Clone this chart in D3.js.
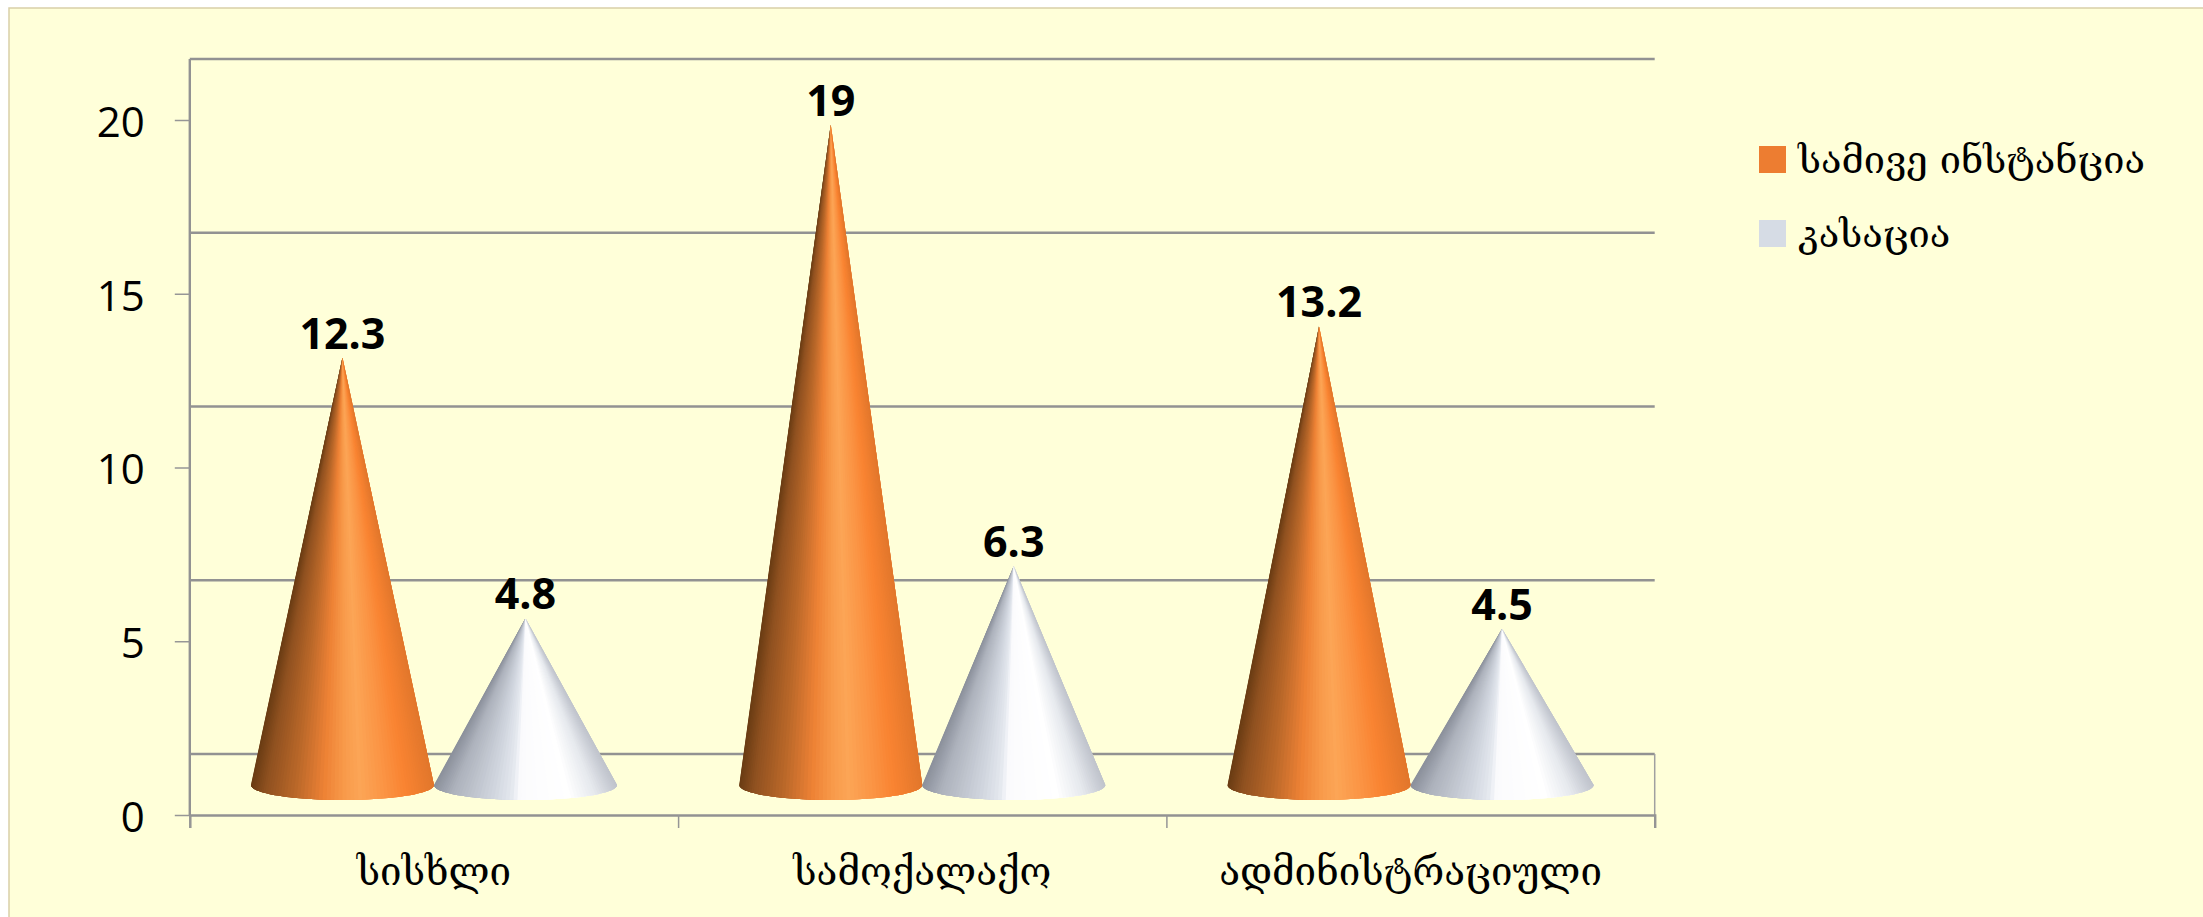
<!DOCTYPE html>
<html>
<head>
<meta charset="utf-8">
<script src="https://cdn.jsdelivr.net/npm/d3@7"></script>
<style>
html, body { margin: 0; padding: 0; background: #fff; }
svg { display: block; }
text { fill: #000; }
</style>
</head>
<body>
<div id="chart"></div>
<script>
// chart data
var categories = ['სისხლი', 'სამოქალაქო', 'ადმინისტრაციული'];
var seriesNames = ['სამივე ინსტანცია', 'კასაცია'];
var allInstances = [12.3, 19, 13.2];
var cassation = [4.8, 6.3, 4.5];
var yTicks = [0, 5, 10, 15, 20];

var swatchColors = ['#ED7D31', '#D6DCE5'];

// shading across a cone, left edge to right edge
var orangeRamp = [
    [0, '#6a3c14'], [0.08, '#8f5120'], [0.25, '#bd692a'], [0.4, '#ee8235'],
    [0.52, '#f99c4c'], [0.6, '#fca556'], [0.72, '#fb9646'], [0.85, '#f98331'], [1, '#e2772c']
];
var whiteRamp = [
    [0, '#8c919c'], [0.1, '#adb2bc'], [0.3, '#cdd2db'], [0.42, '#e3e7ee'],
    [0.47, '#fbfbfd'], [0.74, '#ffffff'], [0.88, '#e6e9ee'], [1, '#c0c4cc']
];

var width = 2203, height = 917;

var svg = d3.select('#chart').append('svg')
    .attr('width', width)
    .attr('height', height);

// panel
svg.append('rect')
    .attr('x', 9).attr('y', 8)
    .attr('width', width).attr('height', height)
    .attr('fill', '#FFFFD9')
    .attr('stroke', '#d9cfa8')
    .attr('stroke-width', 1.5);

var left = 189.8, right = 1654.7;
var depth = 61;   // back wall offset
var baseLift = 30;   // cones stand in the middle of the floor

var y = d3.scaleLinear().domain([0, 20]).range([815, 120]);
var x0 = d3.scaleBand().domain(categories).range([left, right]);
var x1 = d3.scaleBand().domain(seriesNames).range([0, 366]);
var xEdges = d3.scaleLinear().domain([0, 3]).range([left, right]);
var groupPad = (x0.bandwidth() - 366) / 2;

// gridlines on the back wall
svg.append('g').selectAll('line')
    .data(yTicks).enter().append('line')
    .attr('x1', left).attr('x2', right)
    .attr('y1', function(d){ return y(d) - depth })
    .attr('y2', function(d){ return y(d) - depth })
    .attr('stroke', '#929292')
    .attr('stroke-width', 2.6);

// walls
svg.append('line')
    .attr('x1', left).attr('x2', left)
    .attr('y1', y(20) - depth).attr('y2', y(0))
    .attr('stroke', '#929292').attr('stroke-width', 2.4);
svg.append('line')
    .attr('x1', right).attr('x2', right)
    .attr('y1', y(0) - depth).attr('y2', y(0))
    .attr('stroke', '#a0a0a0').attr('stroke-width', 1.5);

// axes
var yAxis = svg.append('g')
    .attr('transform', 'translate(' + left + ',0)')
    .call(d3.axisLeft(y).tickValues(yTicks).tickSize(15).tickPadding(30));
yAxis.select('.domain').remove();
yAxis.selectAll('line').attr('stroke', '#969696').attr('stroke-width', 1.5);
yAxis.selectAll('text')
    .attr('font-family', '"Open Sans", sans-serif')
    .attr('font-size', 42)
    .attr('y', 3)
    .attr('fill', '#000');

var xAxis = svg.append('g')
    .attr('transform', 'translate(0,' + y(0) + ')')
    .call(d3.axisBottom(xEdges).tickValues([0, 1, 2, 3]).tickSize(13).tickFormat(''));
xAxis.select('.domain')
    .attr('stroke', '#929292').attr('stroke-width', 2.4);
xAxis.selectAll('line').attr('stroke', '#969696').attr('stroke-width', 1.5);

svg.append('g').selectAll('text')
    .data(categories).enter().append('text')
    .attr('x', function(d){ return x0(d) + x0.bandwidth() / 2 })
    .attr('y', 885)
    .attr('text-anchor', 'middle')
    .attr('font-family', '"DejaVu Serif", serif')
    .attr('font-size', 38.5)
    .text(function(d){ return d });

function rampColor(ramp, f){
    var i = 1;
    while (i < ramp.length - 1 && ramp[i][0] < f) i++;
    var a = ramp[i - 1], b = ramp[i];
    return d3.interpolateRgb(a[1], b[1])((f - a[0]) / (b[0] - a[0]));
}

// a cone is a fan of facets from the tip to the front of the base ellipse,
// each one painted over the next so that no seams show
function drawCone(g, cx, value, ramp){
    var baseY = y(0) - baseLift;
    var tipY = y(value) - baseLift;
    var rx = x1.bandwidth() / 2, ry = 15;
    var n = 72;
    var cone = g.append('g');
    d3.range(n).forEach(function(i){
        var t0 = Math.PI - Math.PI * i / n;
        var tEnd = Math.PI - Math.PI * Math.min(i + 4, n) / n;
        var f = (Math.cos(t0 - Math.PI / n / 2) + 1) / 2;
        var pts = [[cx, tipY]];
        d3.range(5).forEach(function(k){
            var t = t0 + (tEnd - t0) * k / 4;
            pts.push([cx + rx * Math.cos(t), baseY + ry * Math.sin(t)]);
        });
        cone.append('path')
            .attr('d', 'M' + pts.join('L') + 'Z')
            .attr('fill', rampColor(ramp, f));
    });
    g.append('text')
        .attr('x', cx)
        .attr('y', tipY - 9)
        .attr('text-anchor', 'middle')
        .attr('font-family', '"Open Sans", sans-serif')
        .attr('font-weight', 700)
        .attr('font-size', 43)
        .text(value);
}

var marks = svg.append('g');
[allInstances, cassation].forEach(function(values, s){
    values.forEach(function(v, i){
        var cx = x0(categories[i]) + groupPad + x1(seriesNames[s]) + x1.bandwidth() / 2;
        drawCone(marks, cx, v, s == 0 ? orangeRamp : whiteRamp);
    });
});

// legend
var legend = svg.append('g').selectAll('g')
    .data(seriesNames).enter().append('g')
    .attr('transform', function(d, i){ return 'translate(1759,' + (146 + i * 74) + ')' });
legend.append('rect')
    .attr('width', 27).attr('height', 27)
    .attr('fill', function(d, i){ return swatchColors[i] });
legend.append('text')
    .attr('x', 39).attr('y', 27)
    .attr('font-family', '"DejaVu Serif", serif')
    .attr('font-size', 38)
    .text(function(d){ return d });
</script>
</body>
</html>
